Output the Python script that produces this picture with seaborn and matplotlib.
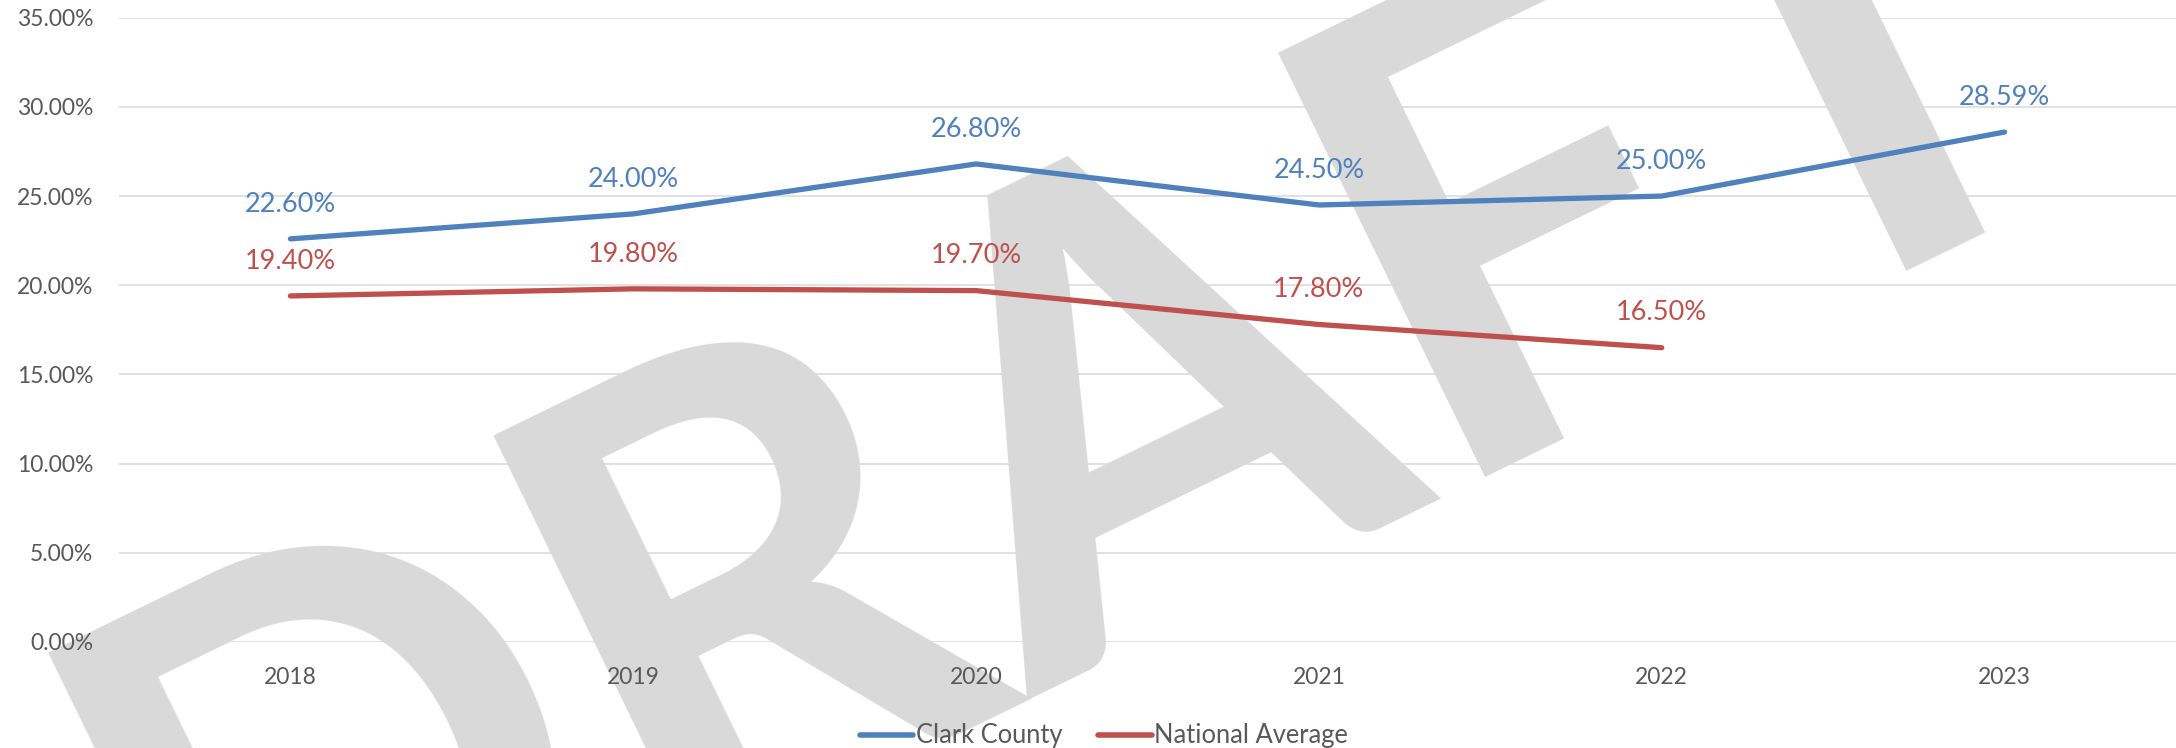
import matplotlib
matplotlib.use("Agg")
import matplotlib.pyplot as plt
from matplotlib.lines import Line2D
import pandas as pd
import seaborn as sns

years = [2018, 2019, 2020, 2021, 2022, 2023]
clark_county = [22.60, 24.00, 26.80, 24.50, 25.00, 28.59]
national_avg = [19.40, 19.80, 19.70, 17.80, 16.50, None]
series_names = ["Clark County", "National Average"]
colors = ["#4F81BD", "#C0504D"]
y_ticks = [0, 5, 10, 15, 20, 25, 30, 35]

rows = []
for name, vals in zip(series_names, [clark_county, national_avg]):
    for yr, v in zip(years, vals):
        if v is not None:
            rows.append({"year": yr, "rate": v / 100, "series": name})
df = pd.DataFrame(rows)

sns.set_style("white")
plt.rcParams["font.family"] = ["Lato", "DejaVu Sans"]

fig = plt.figure(figsize=(21.76, 7.48), dpi=100)
ax = fig.add_axes([119 / 2176, 1 - 642 / 748, 1 - 119 / 2176, (642 - 17.7) / 748])
ax.set_axisbelow(False)

# watermark, below the lines and labels
ax.text(1160 / 2176, 1 - 610 / 748, "DRAFT", transform=fig.transFigure,
        fontsize=470, fontweight="bold", color="#D9D9D9", rotation=26,
        rotation_mode="anchor", ha="center", va="baseline",
        clip_on=False, zorder=1)

sns.lineplot(data=df, x="year", y="rate", hue="series", hue_order=series_names,
             palette=colors, linewidth=3.8, legend=False, ax=ax, zorder=3,
             solid_capstyle="round")

for name, col in zip(series_names, colors):
    sub = df[df["series"] == name]
    for yr, v in zip(sub["year"], sub["rate"]):
        ax.annotate(f"{v * 100:.2f}%", (yr, v), xytext=(0, 25),
                    textcoords="offset points", ha="center", va="center",
                    fontsize=19.5, color=col, zorder=4)

ax.set_xlim(years[0] - 0.5, years[-1] + 0.5)
ax.set_ylim(0, 0.35)
ax.set_yticks([t / 100 for t in y_ticks])
ax.set_yticklabels([f"{t:.2f}%" for t in y_ticks])
ax.set_xticks(years)
ax.set_xticklabels([str(y) for y in years])
ax.tick_params(axis="y", length=0, pad=18.5, labelsize=16.5, labelcolor="#595959")
ax.tick_params(axis="x", length=0, pad=18, labelsize=16.5, labelcolor="#595959")
ax.grid(axis="y", color="#D9D9D9", linewidth=1.1)
ax.grid(axis="x", visible=False)
ax.set_xlabel("")
ax.set_ylabel("")
for s in ax.spines.values():
    s.set_visible(False)
ax.patch.set_alpha(0)

handles = [Line2D([0], [0], color=c, lw=4, solid_capstyle="round") for c in colors]
leg = fig.legend(handles, series_names, loc="center", ncol=2,
                 bbox_to_anchor=(1104 / 2176, 1 - 736 / 748), frameon=False,
                 fontsize=18.4, handlelength=2.1, handletextpad=0.1,
                 columnspacing=1.4, labelcolor="#595959")

fig.savefig("out.png", dpi=100)
